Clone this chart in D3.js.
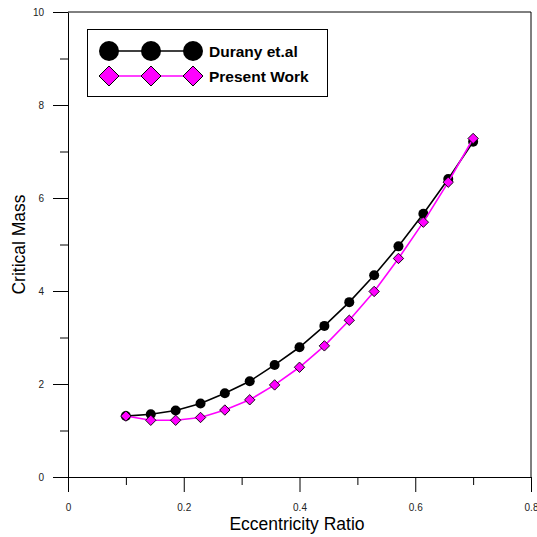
<!DOCTYPE html>
<html>
<head>
<meta charset="utf-8">
<script src="https://cdn.jsdelivr.net/npm/d3@7"></script>
<style>
  html, body { margin: 0; padding: 0; background: #fff; }
  svg { display: block; font-family: "Liberation Sans", Arial, sans-serif; }
</style>
</head>
<body>
<svg id="chart" width="537" height="537"></svg>
<script>
// ---- data ----
const eccentricity = [0.1, 0.143, 0.186, 0.229, 0.271, 0.314, 0.357, 0.4, 0.443, 0.486, 0.529, 0.571, 0.614, 0.657, 0.7];
const durany  = [1.31, 1.35, 1.43, 1.58, 1.80, 2.06, 2.41, 2.79, 3.25, 3.76, 4.34, 4.96, 5.66, 6.41, 7.21];
const present = [1.31, 1.22, 1.22, 1.28, 1.44, 1.66, 1.98, 2.36, 2.82, 3.37, 3.99, 4.70, 5.48, 6.34, 7.28];
const seriesNames = ["Durany et.al", "Present Work"];
const xMajorTicks = [0, 0.2, 0.4, 0.6, 0.8];
const xMinorTicks = [0.1, 0.3, 0.5, 0.7];
const yMajorTicks = [0, 2, 4, 6, 8, 10];
const yMinorTicks = [1, 3, 5, 7, 9];
const xTitle = "Eccentricity Ratio";
const yTitle = "Critical Mass";

(function () {
// ---- layout ----
const svg = d3.select("#chart");
const pL = 68, pR = 531, pT = 12, pB = 477;
const x = d3.scaleLinear().domain([0, 0.8]).range([pL, pR]);
const y = d3.scaleLinear().domain([0, 10]).range([pB, pT]);

const axisColor = "#000";

// y axis minor
svg.append("g").attr("transform", `translate(${pL},0)`)
  .call(d3.axisLeft(y).tickValues(yMinorTicks).tickSize(8).tickSizeOuter(0).tickFormat(""))
  .call(g => g.select(".domain").remove());
// y axis major
const gy = svg.append("g").attr("transform", `translate(${pL},0)`)
  .call(d3.axisLeft(y).tickValues(yMajorTicks).tickSize(15).tickSizeOuter(0).tickPadding(9).tickFormat(d => String(d)));
gy.selectAll("text").attr("font-size", 10).attr("fill", "#222").attr("font-family", "Liberation Sans, Arial, sans-serif");

// x axis minor
svg.append("g").attr("transform", `translate(0,${pB})`)
  .call(d3.axisBottom(x).tickValues(xMinorTicks).tickSize(8).tickSizeOuter(0).tickFormat(""))
  .call(g => g.select(".domain").remove());
// x axis major
const gx = svg.append("g").attr("transform", `translate(0,${pB})`)
  .call(d3.axisBottom(x).tickValues(xMajorTicks).tickSize(15).tickSizeOuter(0).tickPadding(12).tickFormat(d => String(d)));
gx.selectAll("text").attr("font-size", 10).attr("fill", "#222").attr("font-family", "Liberation Sans, Arial, sans-serif");

svg.selectAll(".tick line, .domain").attr("stroke", axisColor);

// frame top and right
svg.append("line").attr("x1", pL).attr("x2", pR).attr("y1", pT).attr("y2", pT).attr("stroke", axisColor);
svg.append("line").attr("x1", pR).attr("x2", pR).attr("y1", pT).attr("y2", pB).attr("stroke", axisColor);

// axis titles
svg.append("text").attr("x", 297).attr("y", 530).attr("text-anchor", "middle")
  .attr("font-size", 17.5).attr("fill", "#000").text(xTitle);
svg.append("text").attr("transform", `translate(25,${(pT + pB) / 2}) rotate(-90)`)
  .attr("text-anchor", "middle").attr("font-size", 17.5).attr("fill", "#000").text(yTitle);

// ---- series ----
const line = d3.line().x(d => x(d[0])).y(d => y(d[1]));
const d1 = eccentricity.map((e, i) => [e, durany[i]]);
const d2 = eccentricity.map((e, i) => [e, present[i]]);
const diamond = s => `M0,${-s}L${s},0L0,${s}L${-s},0Z`;

svg.append("path").datum(d1).attr("d", line).attr("fill", "none").attr("stroke", "#000").attr("stroke-width", 1.6);
svg.append("g").selectAll("circle").data(d1).join("circle")
  .attr("cx", d => x(d[0])).attr("cy", d => y(d[1])).attr("r", 5).attr("fill", "#000");

svg.append("path").datum(d2).attr("d", line).attr("fill", "none").attr("stroke", "#ff00ff").attr("stroke-width", 1.6);
svg.append("g").selectAll("path").data(d2).join("path")
  .attr("transform", d => `translate(${x(d[0])},${y(d[1])})`)
  .attr("d", diamond(5.2)).attr("fill", "#ff00ff").attr("stroke", "#000").attr("stroke-width", 0.9);

// ---- legend ----
const lg = svg.append("g");
lg.append("rect").attr("x", 87.5).attr("y", 29.5).attr("width", 240).attr("height", 67)
  .attr("fill", "#fff").attr("stroke", "#000").attr("stroke-width", 1);
const lx = [109, 151, 193];
const rows = [51, 76];
lg.append("line").attr("x1", lx[0]).attr("x2", lx[2]).attr("y1", rows[0]).attr("y2", rows[0]).attr("stroke", "#000").attr("stroke-width", 1.6);
lx.forEach(cx => lg.append("circle").attr("cx", cx).attr("cy", rows[0]).attr("r", 10).attr("fill", "#000"));
lg.append("line").attr("x1", lx[0]).attr("x2", lx[2]).attr("y1", rows[1]).attr("y2", rows[1]).attr("stroke", "#ff00ff").attr("stroke-width", 1.6);
lx.forEach(cx => lg.append("path").attr("transform", `translate(${cx},${rows[1]})`).attr("d", diamond(10))
  .attr("fill", "#ff00ff").attr("stroke", "#000").attr("stroke-width", 1));
seriesNames.forEach((n, i) => lg.append("text").attr("x", 209).attr("y", rows[i] + 5.5)
  .attr("font-size", 15.5).attr("font-weight", "bold").attr("fill", "#000").text(n));
})();
</script>
</body>
</html>
